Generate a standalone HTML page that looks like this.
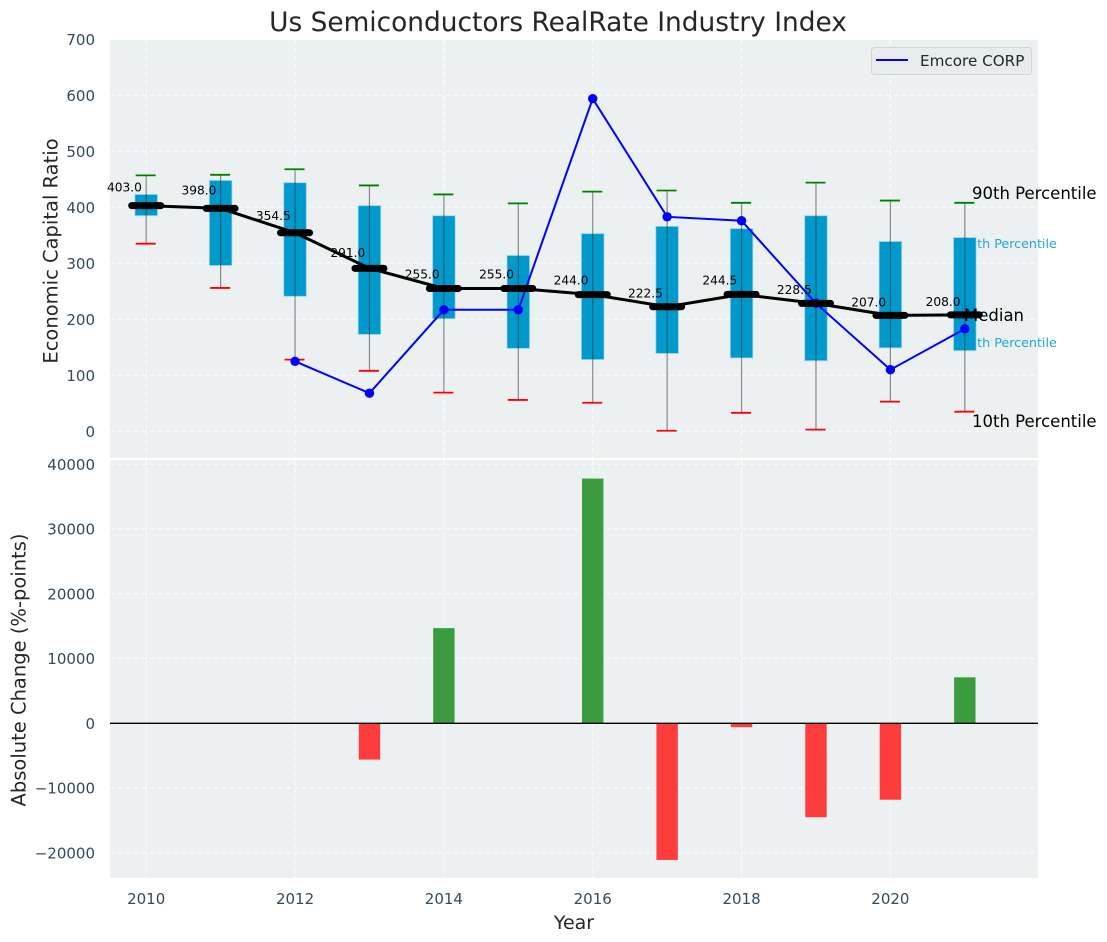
<!DOCTYPE html>
<html lang="en">
<head>
<meta charset="utf-8">
<title>Us Semiconductors RealRate Industry Index</title>
<style>
html,body{margin:0;padding:0;background:#fff;width:1107px;height:942px;overflow:hidden}
svg{display:block;font-family:"DejaVu Sans","Liberation Sans",sans-serif}
</style>
</head>
<body>
<svg id="chart" xmlns="http://www.w3.org/2000/svg" width="1107" height="942" viewBox="0 0 1107 942">
  <rect x="110" y="40" width="928" height="418" fill="#ecf0f1"/>
  <rect x="110" y="460" width="928" height="418" fill="#ecf0f1"/>
  <g id="grid"></g>
  <g id="ticks"></g>
  <g id="behind">
    <text x="961" y="248" font-size="12.7" fill="#22a7d6">75th Percentile</text>
    <text x="961" y="347" font-size="12.7" fill="#22a7d6">25th Percentile</text>
  </g>
  <g id="boxes"></g>
  <g id="medianLine"></g>
  <g id="company"></g>
  <g id="medians"></g>
  <g id="bars"></g>
  <line x1="110" x2="1038" y1="723.3" y2="723.3" stroke="#000" stroke-width="1.3"/>

  <text x="558" y="31" font-size="26.4" fill="#262626" text-anchor="middle">Us Semiconductors RealRate Industry Index</text>
  <text transform="translate(57.5,251) rotate(-90)" font-size="19.5" fill="#262626" text-anchor="middle">Economic Capital Ratio</text>
  <text transform="translate(25.5,670) rotate(-90)" font-size="19.5" fill="#262626" text-anchor="middle">Absolute Change (%-points)</text>
  <text x="574" y="929" font-size="19" fill="#262626" text-anchor="middle">Year</text>

  <text x="972" y="199" font-size="16.5" fill="#000">90th Percentile</text>
  <text x="964" y="321" font-size="16.5" fill="#000">Median</text>
  <text x="972" y="427" font-size="16.5" fill="#000">10th Percentile</text>

  <g>
    <rect x="871.5" y="47.5" width="160" height="27" rx="3" fill="#e9ebef" stroke="#cfd2d6" stroke-width="1"/>
    <line x1="876" x2="908" y1="60" y2="60" stroke="#0000ff" stroke-width="2"/>
    <text x="920" y="66" font-size="15.2" fill="#262626">Emcore CORP</text>
  </g>
</svg>
<script>
const years = [2010,2011,2012,2013,2014,2015,2016,2017,2018,2019,2020,2021];
const p10 = [335,256,128,108,69,56,51,1,33,3,53,35];
const p25 = [385,296,241,173,201,148,128,139,131,126,149,144];
const medianValues = [403,398,354.5,291,255,255,244,222.5,244.5,228.5,207,208];
const p75 = [423,448,444,403,385,314,353,366,362,385,339,346];
const p90 = [457,458,468,439,423,407,428,430,408,444,412,408];
const companyYears = [2012,2013,2014,2015,2016,2017,2018,2019,2020,2021];
const companyValues = [125,68,217,217,594,383,376,228.5,110,183];
const changeYears = [2013,2014,2016,2017,2018,2019,2020,2021];
const changeValues = [-5600,14700,37800,-21100,-600,-14500,-11800,7100];
const xTicks = [2010,2012,2014,2016,2018,2020];
const yTicksTop = [0,100,200,300,400,500,600,700];
const yTicksBottom = [-20000,-10000,0,10000,20000,30000,40000];

const NS = 'http://www.w3.org/2000/svg';
const x = function (yr) { return 146.2 + 74.42 * (yr - 2010); };
const yTop = function (v) { return 431.3 - 0.56 * v; };
const yBot = function (v) { return 723.3 - 0.006475 * v; };
function mk(parent, tag, attrs, txt) {
  const el = document.createElementNS(NS, tag);
  for (const k in attrs) el.setAttribute(k, attrs[k]);
  if (txt !== undefined) el.textContent = txt;
  parent.appendChild(el);
  return el;
}
function fmtTick(v) { return v < 0 ? '\u2212' + Math.abs(v) : String(v); }
const $ = function (id) { return document.getElementById(id); };
let el;

/* grid */
xTicks.forEach(function (t) {
  el = mk($('grid'), 'line', {x1:x(t), x2:x(t), y1:40, y2:458, stroke:'#fff', 'stroke-width':1, 'stroke-dasharray':'5 3', opacity:.85});
  
  
  el = mk($('grid'), 'line', {x1:x(t), x2:x(t), y1:460, y2:878, stroke:'#fff', 'stroke-width':1, 'stroke-dasharray':'5 3', opacity:.85});
  
  
  el = mk($('ticks'), 'text', {x:x(t), y:904, 'font-size':15, fill:'#34495e', 'text-anchor':'middle'}, String(t));
  
  
});
yTicksTop.forEach(function (t) {
  el = mk($('grid'), 'line', {x1:110, x2:1038, y1:yTop(t), y2:yTop(t), stroke:'#fff', 'stroke-width':1, 'stroke-dasharray':'5 3', opacity:.85});
  
  
  el = mk($('ticks'), 'text', {x:95, y:yTop(t) + 5.6, 'font-size':15, fill:'#34495e', 'text-anchor':'end'}, fmtTick(t));
  
  
});
yTicksBottom.forEach(function (t) {
  el = mk($('grid'), 'line', {x1:110, x2:1038, y1:yBot(t), y2:yBot(t), stroke:'#fff', 'stroke-width':1, 'stroke-dasharray':'5 3', opacity:.85});
  
  
  el = mk($('ticks'), 'text', {x:95, y:yBot(t) + 5.5, 'font-size':15, fill:'#34495e', 'text-anchor':'end'}, fmtTick(t));
  
  
});

/* boxes, whiskers and caps */
years.forEach(function (yr, i) {
  const cx = x(yr);
  el = mk($('boxes'), 'rect', {x:cx - 11.3, y:yTop(p75[i]), width:22.6, height:yTop(p25[i]) - yTop(p75[i]), fill:'#0099cc', stroke:'#a8dcec', 'stroke-width':1, 'stroke-opacity':.7});
  
  
  el = mk($('boxes'), 'line', {x1:cx, x2:cx, y1:yTop(p90[i]), y2:yTop(p10[i]), stroke:'#333', 'stroke-width':1.2, opacity:.55});
  
  
  el = mk($('boxes'), 'line', {x1:cx - 10.5, x2:cx + 9.5, y1:yTop(p90[i]), y2:yTop(p90[i]), stroke:'#008000', 'stroke-width':1.8});
  
  
  el = mk($('boxes'), 'line', {x1:cx - 10.5, x2:cx + 9.5, y1:yTop(p10[i]), y2:yTop(p10[i]), stroke:'#ff0000', 'stroke-width':1.8});
  
  
});

/* median line */
el = mk($('medianLine'), 'polyline', {points:years.map(function (yr, i) { return x(yr) + ',' + yTop(medianValues[i]); }).join(' '), fill:'none', stroke:'#000', 'stroke-width':3});



/* company line */
el = mk($('company'), 'polyline', {points:companyYears.map(function (yr, i) { return x(yr) + ',' + yTop(companyValues[i]); }).join(' '), fill:'none', stroke:'#0000ff', 'stroke-width':2});


companyYears.forEach(function (yr, i) {
  el = mk($('company'), 'circle', {cx:x(yr), cy:yTop(companyValues[i]), r:4.7, fill:'#0000ff'});
  
  
});

/* median markers and printed values */
years.forEach(function (yr, i) {
  const cx = x(yr), cy = yTop(medianValues[i]);
  el = mk($('medians'), 'line', {x1:cx - 14.5, x2:cx + 14.5, y1:cy, y2:cy, stroke:'#000', 'stroke-width':7, 'stroke-linecap':'round'});
  
  
  const offset = 9 + 0.0255 * (medianValues[i] - 207);
  el = mk($('medians'), 'text', {x:cx - 21.7, y:cy - offset, 'font-size':12.2, fill:'#000', 'text-anchor':'middle'}, medianValues[i].toFixed(1));
  
  
});

/* change bars */
changeYears.forEach(function (yr, i) {
  const v = changeValues[i];
  el = mk($('bars'), 'rect', {x:x(yr) - 10.7, y:Math.min(yBot(v), yBot(0)), width:21.4, height:Math.abs(yBot(v) - yBot(0)), fill:v >= 0 ? '#3a9c3e' : '#ff3c3c'});
  
  
});
</script>
</body>
</html>
